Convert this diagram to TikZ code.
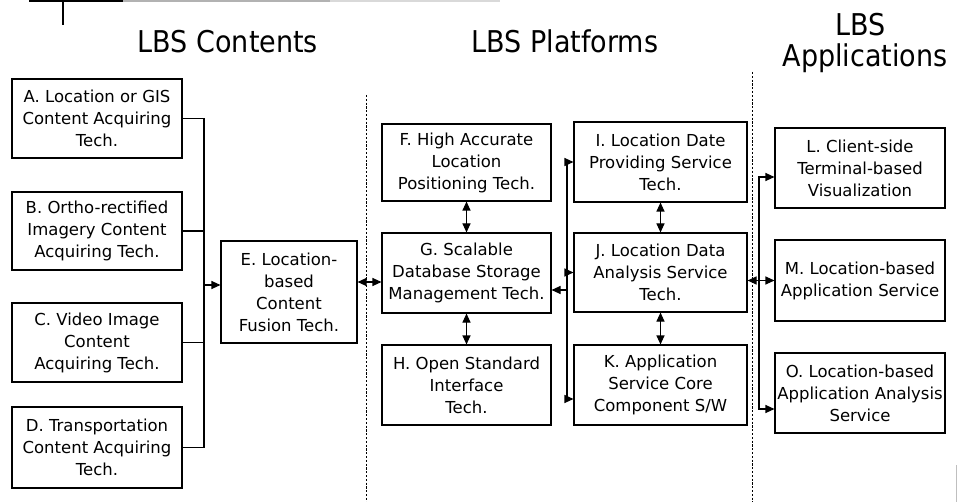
\documentclass[tikz,border=0pt]{standalone}
\usepackage{fontspec}
\setmainfont{DejaVu Sans}
\newfontfamily\titlefont{DejaVu Sans Condensed}
\usetikzlibrary{arrows.meta,calc}

\tikzset{
  box/.style={draw, line width=1.1pt, align=center, inner sep=1pt,
    font=\fontsize{16.5}{22}\selectfont, minimum width=170pt, minimum height=79pt},
  title/.style={font=\titlefont\fontsize{30}{34}\selectfont, anchor=base, inner sep=0pt},
  link/.style={line width=1.1pt},
  tip/.style={link, -{Triangle[length=9pt,width=8pt]}},
  both/.style={link, {Triangle[length=9pt,width=8pt]}-{Triangle[length=9pt,width=8pt]}},
  divider/.style={line width=0.8pt, dash pattern=on 2.2pt off 1.6pt},
}

\begin{document}
\begin{tikzpicture}[x=1pt,y=-1pt]
\useasboundingbox (0,0) rectangle (957,502);

% header rule and tick
\draw[line width=3pt] (29,1) -- (123,1);
\draw[line width=2.5pt] (63,0) -- (63,25);
\draw[line width=2pt, gray!60] (123,1) -- (330,1);
\draw[line width=2pt, gray!30] (330,1) -- (500,1);
\draw[line width=1pt, gray!50] (956,465) -- (956,502);

% column titles
\node[title] (tc) at (228,53) {LBS Contents};
\node[title] (tp) at (565,53) {LBS Platforms};
\node[title] (ta1) at (861,36) {LBS};
\node[title] (ta2) at (865,67) {Applications};

% column dividers
\coordinate (d1t) at (366,95);  \coordinate (d1b) at (366,502);
\coordinate (d2t) at (752,72);  \coordinate (d2b) at (752,502);
\draw[divider] (d1t) -- (d1b);
\draw[divider] (d2t) -- (d2b);

% contents
\node[box] (A) at (97,118.5) {A. Location or GIS\\Content Acquiring\\Tech.};
\node[box, minimum height=78pt] (B) at (97,231) {B. Ortho-rectified\\Imagery Content\\Acquiring Tech.};
\node[box] (C) at (97,342.5) {C. Video Image\\Content\\Acquiring Tech.};
\node[box, minimum height=81pt] (D) at (97,447.5) {D. Transportation\\Content Acquiring\\Tech.};
\node[box, minimum width=136pt, minimum height=102pt] (E) at (289,292) {E. Location-\\based\\Content\\Fusion Tech.};

% platforms
\node[box, minimum width=169pt, minimum height=77pt] (F) at (466.5,162.5) {F. High Accurate\\Location\\Positioning Tech.};
\node[box, minimum width=169pt, minimum height=80pt] (G) at (466.5,273) {G. Scalable\\Database Storage\\Management Tech.};
\node[box, minimum width=169pt, minimum height=80pt] (H) at (466.5,385) {H. Open Standard\\Interface\\Tech.};
\node[box, minimum width=173pt, minimum height=80pt] (I) at (660.5,162) {I. Location Date\\Providing Service\\Tech.};
\node[box, minimum width=173pt, minimum height=79pt] (J) at (660.5,272.5) {J. Location Data\\Analysis Service\\Tech.};
\node[box, minimum width=173pt, minimum height=80pt] (K) at (660.5,385) {K. Application\\Service Core\\Component S/W};

% applications
\node[box, minimum height=80pt] (L) at (860,168) {L. Client-side\\Terminal-based\\Visualization};
\node[box, minimum height=81pt] (M) at (860,280.5) {M. Location-based\\Application Service};
\node[box, minimum height=80pt] (O) at (860,393) {O. Location-based\\Application Analysis\\Service};

% contents feed into fusion
\coordinate (jl) at (204,285);
\draw[link] (A.east) -| (jl);
\draw[link] (D.east) -| (jl);
\draw[link] (B.east) -- (B.east -| jl);
\draw[link] (C.east) -- (C.east -| jl);
\draw[tip] (jl) -- (jl -| E.west);

% fusion <-> storage
\draw[both] (E.east |- 0,282) -- (G.west |- 0,282);

% vertical links inside platforms
\draw[both] (F.south) -- (G.north);
\draw[both] (G.south) -- (H.north);
\draw[both] (I.south) -- (J.north);
\draw[both] (J.south) -- (K.north);

% storage bus to service layer
\coordinate (pb) at (567,290);
\draw[tip] (pb) -- (pb -| G.east);
\draw[tip] (pb) |- (I.west);
\draw[tip] (pb) |- (J.west);
\draw[tip] (pb) |- (K.west |- 0,399);

% service layer to applications
\draw[both] (J.east |- M.west) -- (M.west);
\coordinate (rb) at (759,280.5);
\draw[tip] (rb) |- (L.west |- 0,177);
\draw[tip] (rb) |- (O.west |- 0,409);
\end{tikzpicture}
\end{document}
